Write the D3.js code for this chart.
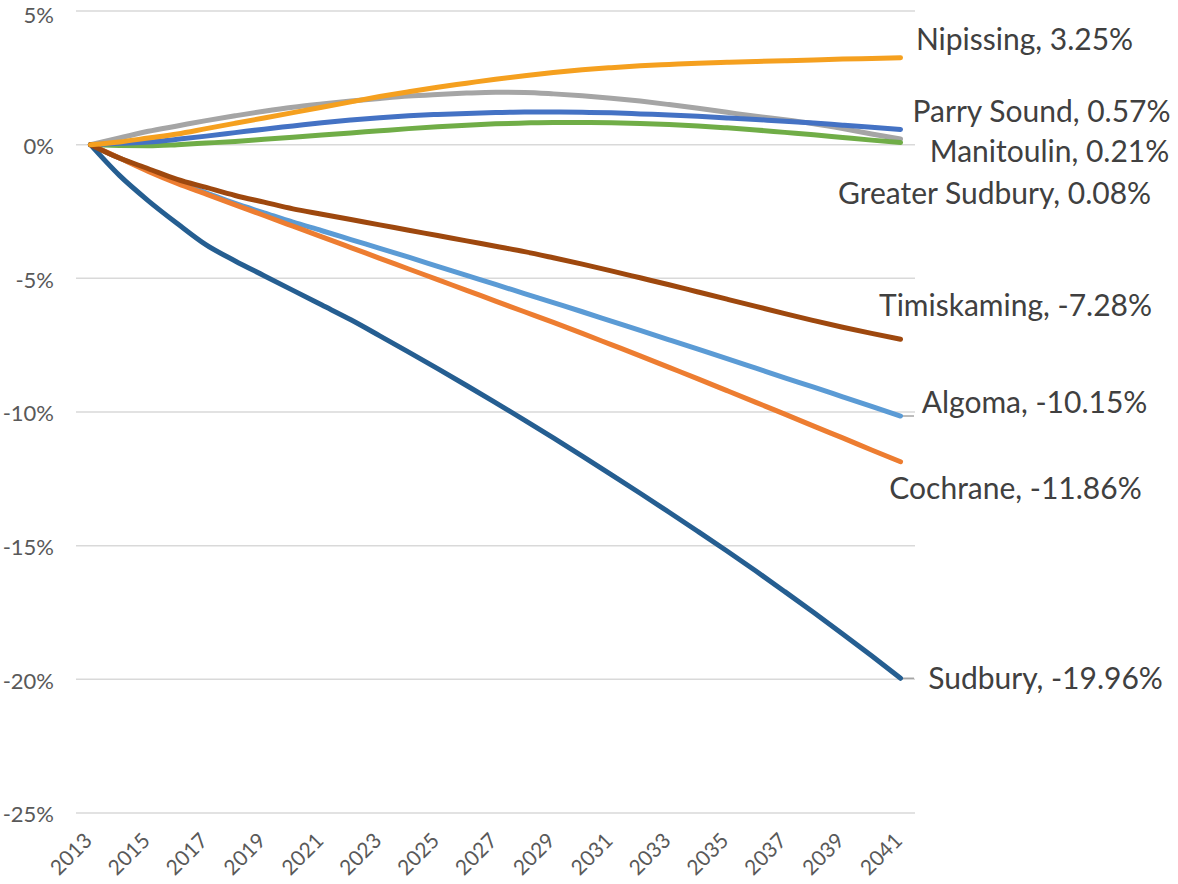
<!DOCTYPE html>
<html lang="en">
<head>
    <meta charset="UTF-8">
    <title>Population change by district</title>
    <script src="https://cdn.jsdelivr.net/npm/d3@7"></script>
    <style>
        body { margin: 0; background: #fff; }
        text { font-family: Lato, "Noto Sans", sans-serif; }
    </style>
</head>
<body>

<script>

    var years = [2013, 2014, 2015, 2016, 2017, 2018, 2019, 2020, 2021, 2022,
                 2023, 2024, 2025, 2026, 2027, 2028, 2029, 2030, 2031, 2032,
                 2033, 2034, 2035, 2036, 2037, 2038, 2039, 2040, 2041];

    var yTicks = [5, 0, -5, -10, -15, -20, -25];

    // % change since 2013
    var manitoulin     = [0, 0.25, 0.5, 0.7, 0.9, 1.08, 1.25, 1.4, 1.52, 1.63, 1.73, 1.82, 1.88, 1.93, 1.96,
                          1.95, 1.9, 1.83, 1.74, 1.63, 1.5, 1.36, 1.21, 1.06, 0.93, 0.78, 0.6, 0.4, 0.21];
    var greaterSudbury = [0, -0.03, -0.04, 0, 0.06, 0.12, 0.2, 0.28, 0.36, 0.44, 0.52, 0.6, 0.67, 0.73, 0.78,
                          0.81, 0.83, 0.83, 0.82, 0.79, 0.75, 0.7, 0.63, 0.55, 0.46, 0.37, 0.27, 0.17, 0.08];
    var parrySound     = [0, 0.05, 0.1, 0.2, 0.32, 0.45, 0.58, 0.7, 0.82, 0.92, 1.01, 1.08, 1.13, 1.17, 1.2,
                          1.22, 1.22, 1.21, 1.19, 1.15, 1.11, 1.06, 1.0, 0.94, 0.88, 0.81, 0.73, 0.65, 0.57];
    var algoma         = [0, -0.5, -0.95, -1.4, -1.8, -2.2, -2.55, -2.9, -3.22, -3.55, -3.88, -4.21, -4.55, -4.89, -5.23,
                          -5.57, -5.91, -6.25, -6.6, -6.95, -7.3, -7.65, -8.0, -8.36, -8.72, -9.07, -9.43, -9.79, -10.15];
    var cochrane       = [0, -0.5, -1.0, -1.45, -1.85, -2.25, -2.65, -3.05, -3.45, -3.85, -4.25, -4.65, -5.05, -5.45, -5.85,
                          -6.25, -6.65, -7.06, -7.48, -7.9, -8.33, -8.76, -9.2, -9.64, -10.08, -10.53, -10.97, -11.42, -11.86];
    var sudbury        = [0, -1.15, -2.1, -2.95, -3.75, -4.35, -4.9, -5.45, -6.0, -6.55, -7.15, -7.76, -8.38, -9.01, -9.65,
                          -10.3, -10.97, -11.65, -12.34, -13.04, -13.75, -14.47, -15.2, -15.95, -16.72, -17.5, -18.3, -19.12, -19.96];
    var timiskaming    = [0, -0.5, -0.9, -1.3, -1.6, -1.9, -2.15, -2.4, -2.6, -2.8, -3.0, -3.2, -3.4, -3.6, -3.8,
                          -4.0, -4.23, -4.47, -4.72, -4.98, -5.24, -5.51, -5.78, -6.05, -6.32, -6.58, -6.83, -7.06, -7.28];
    var nipissing      = [0, 0.1, 0.25, 0.4, 0.6, 0.8, 1.0, 1.2, 1.4, 1.6, 1.8, 1.98, 2.15, 2.3, 2.45,
                          2.58, 2.7, 2.8, 2.88, 2.95, 3.0, 3.05, 3.08, 3.11, 3.14, 3.17, 3.2, 3.22, 3.25];

    var seriesNames  = ["Manitoulin", "Greater Sudbury", "Parry Sound", "Algoma", "Cochrane", "Sudbury", "Timiskaming", "Nipissing"];
    var seriesValues = [manitoulin, greaterSudbury, parrySound, algoma, cochrane, sudbury, timiskaming, nipissing];
    var colors       = ["#A5A5A5", "#70AD47", "#4472C4", "#5B9BD5", "#ED7D31", "#255E91", "#9E480E", "#F5A01F"];

    // label placement relative to the last point: [dx to label centre, dy to label centre]
    var labelShift = {
        "Nipissing": [124, -19],
        "Parry Sound": [141, -18],
        "Manitoulin": [149, 12],
        "Greater Sudbury": [94, 51],
        "Timiskaming": [115, -34],
        "Algoma": [134, -14],
        "Cochrane": [115, 26],
        "Sudbury": [145, 0]
    };
    var leaderLines = ["Algoma", "Sudbury"];

    var width  = 1178;
    var height = 884;

    var svg = d3.select("body")
        .append("svg")
        .attr("width", width)
        .attr("height", height);

    var x = d3.scalePoint()
        .domain(years)
        .range([76, 915])
        .padding(0.5);

    var y = d3.scaleLinear()
        .domain([-25, 5])
        .range([813, 11]);

    // gridlines
    svg.append("g")
        .selectAll("line")
        .data(yTicks)
        .join("line")
        .attr("x1", 76)
        .attr("x2", 915)
        .attr("y1", function(d) { return y(d); })
        .attr("y2", function(d) { return y(d); })
        .attr("stroke", "#D9D9D9")
        .attr("stroke-width", 1.5);

    // y labels (top one nudged down so it stays inside the page)
    svg.append("g")
        .selectAll("text")
        .data(yTicks)
        .join("text")
        .attr("x", 54)
        .attr("y", function(d) { return Math.max(y(d), 14); })
        .attr("dy", "0.42em")
        .attr("text-anchor", "end")
        .attr("fill", "#595959")
        .style("font-size", "22px")
        .text(function(d) { return d + "%"; });

    // x labels, every other year
    svg.append("g")
        .selectAll("text")
        .data(years.filter(function(d, i) { return i % 2 === 0; }))
        .join("text")
        .attr("transform", function(d) { return "translate(" + (x(d) + 3) + ",842) rotate(-45)"; })
        .attr("text-anchor", "end")
        .attr("fill", "#595959")
        .style("font-size", "21px")
        .text(function(d) { return d; });

    var line = d3.line()
        .x(function(d, i) { return x(years[i]); })
        .y(function(d) { return y(d); })
        .curve(d3.curveMonotoneX);

    var last = years.length - 1;

    // leader lines
    svg.append("g")
        .selectAll("line")
        .data(leaderLines)
        .join("line")
        .attr("x1", function() { return x(years[last]); })
        .attr("x2", 914)
        .attr("y1", function(d) { return y(seriesValues[seriesNames.indexOf(d)][last]); })
        .attr("y2", function(d) { return y(seriesValues[seriesNames.indexOf(d)][last]); })
        .attr("stroke", "#A6A6A6")
        .attr("stroke-width", 1.5);

    svg.append("g")
        .selectAll("path")
        .data(seriesValues)
        .join("path")
        .attr("d", line)
        .attr("fill", "none")
        .attr("stroke", function(d, i) { return colors[i]; })
        .attr("stroke-width", 5)
        .attr("stroke-linecap", "round")
        .attr("stroke-linejoin", "round");

    // end labels
    svg.append("g")
        .selectAll("text")
        .data(seriesNames)
        .join("text")
        .attr("x", function(d) { return x(years[last]) + labelShift[d][0]; })
        .attr("y", function(d, i) { return y(seriesValues[i][last]) + labelShift[d][1]; })
        .attr("dy", "0.36em")
        .attr("text-anchor", "middle")
        .attr("fill", "#404040")
        .style("font-size", "30px")
        .text(function(d, i) { return d + ", " + seriesValues[i][last].toFixed(2) + "%"; });

</script>

</body>
</html>
